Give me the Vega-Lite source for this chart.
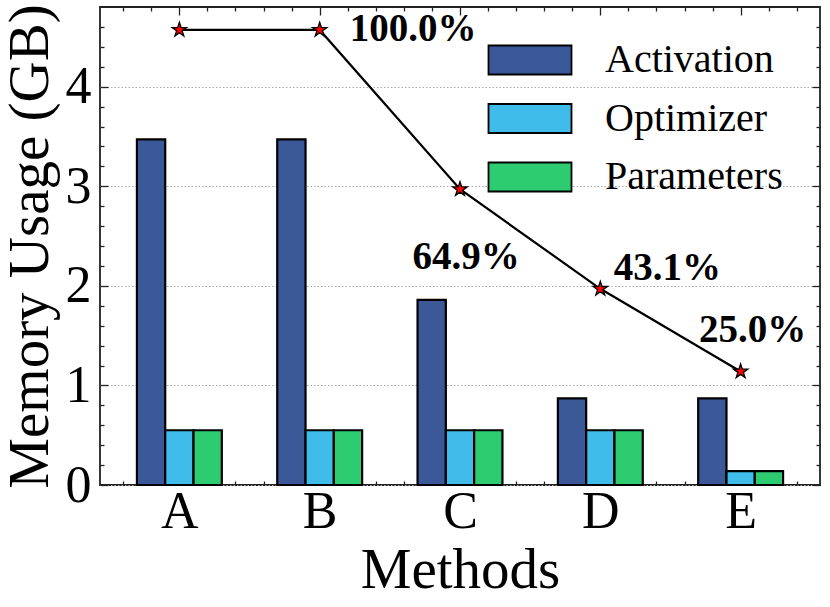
{
  "$schema": "https://vega.github.io/schema/vega-lite/v6.json",
  "width": 720,
  "height": 478,
  "autosize": {"type": "none"},
  "padding": {"left": 100, "top": 7, "right": 10, "bottom": 122},
  "config": {
    "font": "Liberation Serif",
    "view": {"stroke": "#222", "strokeWidth": 1.8},
    "axis": {"domain": false, "labelColor": "black", "titleColor": "black", "tickColor": "#222", "tickWidth": 1.3, "titleFontWeight": "normal", "grid": false, "labelFlush": false, "labelOverlap": false}
  },
  "datasets": {
    "usage": [
      {"method": "A", "idx": 0, "series": "Activation", "value": 3.47},
      {"method": "A", "idx": 0, "series": "Optimizer", "value": 0.55},
      {"method": "A", "idx": 0, "series": "Parameters", "value": 0.55},
      {"method": "B", "idx": 1, "series": "Activation", "value": 3.47},
      {"method": "B", "idx": 1, "series": "Optimizer", "value": 0.55},
      {"method": "B", "idx": 1, "series": "Parameters", "value": 0.55},
      {"method": "C", "idx": 2, "series": "Activation", "value": 1.86},
      {"method": "C", "idx": 2, "series": "Optimizer", "value": 0.55},
      {"method": "C", "idx": 2, "series": "Parameters", "value": 0.55},
      {"method": "D", "idx": 3, "series": "Activation", "value": 0.87},
      {"method": "D", "idx": 3, "series": "Optimizer", "value": 0.55},
      {"method": "D", "idx": 3, "series": "Parameters", "value": 0.55},
      {"method": "E", "idx": 4, "series": "Activation", "value": 0.87},
      {"method": "E", "idx": 4, "series": "Optimizer", "value": 0.14},
      {"method": "E", "idx": 4, "series": "Parameters", "value": 0.14}
    ],
    "total": [
      {"method": "A", "idx": 0, "total": 4.57, "label": ""},
      {"method": "B", "idx": 1, "total": 4.57, "label": "100.0%"},
      {"method": "C", "idx": 2, "total": 2.97, "label": "64.9%"},
      {"method": "D", "idx": 3, "total": 1.97, "label": "43.1%"},
      {"method": "E", "idx": 4, "total": 1.14, "label": "25.0%"}
    ]
  },
  "resolve": {"axis": {"x": "independent", "y": "independent"}},
  "layer": [
    {
      "data": {"name": "usage"},
      "transform": [{"filter": "datum.series === 'Activation'"}],
      "mark": {"type": "bar", "xOffset": -28.3, "width": 28.3, "stroke": "black", "strokeWidth": 2.2},
      "encoding": {
        "x": {"field": "idx", "type": "quantitative", "scale": {"domain": [-0.53, 4.53], "nice": false, "zero": false},
          "axis": {"orient": "bottom", "values": [0, 1, 2, 3, 4], "labelExpr": "['A','B','C','D','E'][datum.value]", "tickSize": -8, "labelPadding": 9, "labelFontSize": 52, "title": "Methods", "titleFontSize": 57, "titleBaseline": "alphabetic", "titleY": 102}},
        "y": {"field": "value", "type": "quantitative", "scale": {"domain": [0, 4.8], "nice": false},
          "axis": {"orient": "left", "values": [0, 1, 2, 3, 4], "tickSize": -8, "labelPadding": 17, "labelFontSize": 52, "title": "Memory Usage (GB)", "titleFontSize": 57, "titleBaseline": "alphabetic", "titleX": -53, "titleY": 239, "grid": true, "gridColor": "#aaaaaa", "gridDash": [1.5, 2], "gridWidth": 1}},
        "color": {"field": "series", "type": "nominal",
          "scale": {"domain": ["Activation", "Optimizer", "Parameters"], "range": ["#3b5998", "#3fbce9", "#2ecc71"]},
          "legend": {"orient": "none", "legendX": 408, "legendY": 31, "title": null, "symbolType": "M-2,-0.7H2V0.7H-2Z", "symbolSize": 1722, "symbolStrokeColor": "black", "symbolStrokeWidth": 1.8, "symbolOpacity": 1, "labelFontSize": 40, "labelOffset": 53, "rowPadding": 16.5, "padding": 0, "labelLimit": 400, "labelColor": "black"}}
      }
    },
    {
      "data": {"name": "usage"},
      "transform": [{"filter": "datum.series === 'Optimizer'"}],
      "mark": {"type": "bar", "xOffset": 0, "width": 28.3, "stroke": "black", "strokeWidth": 2.2},
      "encoding": {
        "x": {"field": "idx", "type": "quantitative", "scale": {"domain": [-0.53, 4.53], "nice": false, "zero": false},
          "axis": {"orient": "bottom", "values": [-0.4, -0.2, 0.2, 0.4, 0.6, 0.8, 1.2, 1.4, 1.6, 1.8, 2.2, 2.4, 2.6, 2.8, 3.2, 3.4, 3.6, 3.8, 4.2, 4.4], "labels": false, "tickSize": -4, "title": null}},
        "y": {"field": "value", "type": "quantitative", "scale": {"domain": [0, 4.8], "nice": false},
          "axis": {"orient": "left", "values": [0.2, 0.4, 0.6, 0.8, 1.2, 1.4, 1.6, 1.8, 2.2, 2.4, 2.6, 2.8, 3.2, 3.4, 3.6, 3.8, 4.2, 4.4, 4.6], "labels": false, "tickSize": -4, "title": null}},
        "color": {"field": "series", "type": "nominal", "scale": {"domain": ["Activation", "Optimizer", "Parameters"], "range": ["#3b5998", "#3fbce9", "#2ecc71"]}}
      }
    },
    {
      "data": {"name": "usage"},
      "transform": [{"filter": "datum.series === 'Parameters'"}],
      "mark": {"type": "bar", "xOffset": 28.3, "width": 28.3, "stroke": "black", "strokeWidth": 2.2},
      "encoding": {
        "x": {"field": "idx", "type": "quantitative", "scale": {"domain": [-0.53, 4.53], "nice": false, "zero": false},
          "axis": {"orient": "top", "values": [0, 1, 2, 3, 4], "labels": false, "tickSize": -8, "title": null}},
        "y": {"field": "value", "type": "quantitative", "scale": {"domain": [0, 4.8], "nice": false},
          "axis": {"orient": "right", "values": [0, 1, 2, 3, 4], "labels": false, "tickSize": -8, "title": null}},
        "color": {"field": "series", "type": "nominal", "scale": {"domain": ["Activation", "Optimizer", "Parameters"], "range": ["#3b5998", "#3fbce9", "#2ecc71"]}}
      }
    },
    {
      "data": {"name": "total"},
      "mark": {"type": "line", "color": "black", "strokeWidth": 2.2},
      "encoding": {
        "x": {"field": "idx", "type": "quantitative", "scale": {"domain": [-0.53, 4.53], "nice": false, "zero": false},
          "axis": {"orient": "top", "values": [-0.4, -0.2, 0.2, 0.4, 0.6, 0.8, 1.2, 1.4, 1.6, 1.8, 2.2, 2.4, 2.6, 2.8, 3.2, 3.4, 3.6, 3.8, 4.2, 4.4], "labels": false, "tickSize": -4, "title": null}},
        "y": {"field": "total", "type": "quantitative", "scale": {"domain": [0, 4.8], "nice": false},
          "axis": {"orient": "right", "values": [0.2, 0.4, 0.6, 0.8, 1.2, 1.4, 1.6, 1.8, 2.2, 2.4, 2.6, 2.8, 3.2, 3.4, 3.6, 3.8, 4.2, 4.4, 4.6], "labels": false, "tickSize": -4, "title": null}}
      }
    },
    {
      "data": {"name": "total"},
      "transform": [{"filter": "datum.method === 'B'"}],
      "mark": {"type": "text", "align": "left", "baseline": "alphabetic", "dx": 30, "dy": 11, "fontSize": 39, "fontWeight": "bold", "color": "black"},
      "encoding": {
        "x": {"field": "idx", "type": "quantitative", "axis": null},
        "y": {"field": "total", "type": "quantitative", "axis": null},
        "text": {"field": "label"}
      }
    },
    {
      "data": {"name": "total"},
      "transform": [{"filter": "datum.method === 'C'"}],
      "mark": {"type": "text", "align": "center", "baseline": "alphabetic", "dx": 6, "dy": 80, "fontSize": 39, "fontWeight": "bold", "color": "black"},
      "encoding": {
        "x": {"field": "idx", "type": "quantitative", "axis": null},
        "y": {"field": "total", "type": "quantitative", "axis": null},
        "text": {"field": "label"}
      }
    },
    {
      "data": {"name": "total"},
      "transform": [{"filter": "datum.method === 'D'"}],
      "mark": {"type": "text", "align": "center", "baseline": "alphabetic", "dx": 67, "dy": -9, "fontSize": 39, "fontWeight": "bold", "color": "black"},
      "encoding": {
        "x": {"field": "idx", "type": "quantitative", "axis": null},
        "y": {"field": "total", "type": "quantitative", "axis": null},
        "text": {"field": "label"}
      }
    },
    {
      "data": {"name": "total"},
      "transform": [{"filter": "datum.method === 'E'"}],
      "mark": {"type": "text", "align": "center", "baseline": "alphabetic", "dx": 12, "dy": -29, "fontSize": 39, "fontWeight": "bold", "color": "black"},
      "encoding": {
        "x": {"field": "idx", "type": "quantitative", "axis": null},
        "y": {"field": "total", "type": "quantitative", "axis": null},
        "text": {"field": "label"}
      }
    },
    {
      "data": {"name": "total"},
      "mark": {"type": "point", "shape": "M0,-1L0.2245,-0.309L0.951,-0.309L0.363,0.118L0.588,0.809L0,0.382L-0.588,0.809L-0.363,0.118L-0.951,-0.309L-0.2245,-0.309Z", "filled": true, "fill": "red", "stroke": "black", "strokeWidth": 1.3, "size": 230, "opacity": 1},
      "encoding": {
        "x": {"field": "idx", "type": "quantitative", "axis": null},
        "y": {"field": "total", "type": "quantitative", "axis": null}
      }
    }
  ]
}
